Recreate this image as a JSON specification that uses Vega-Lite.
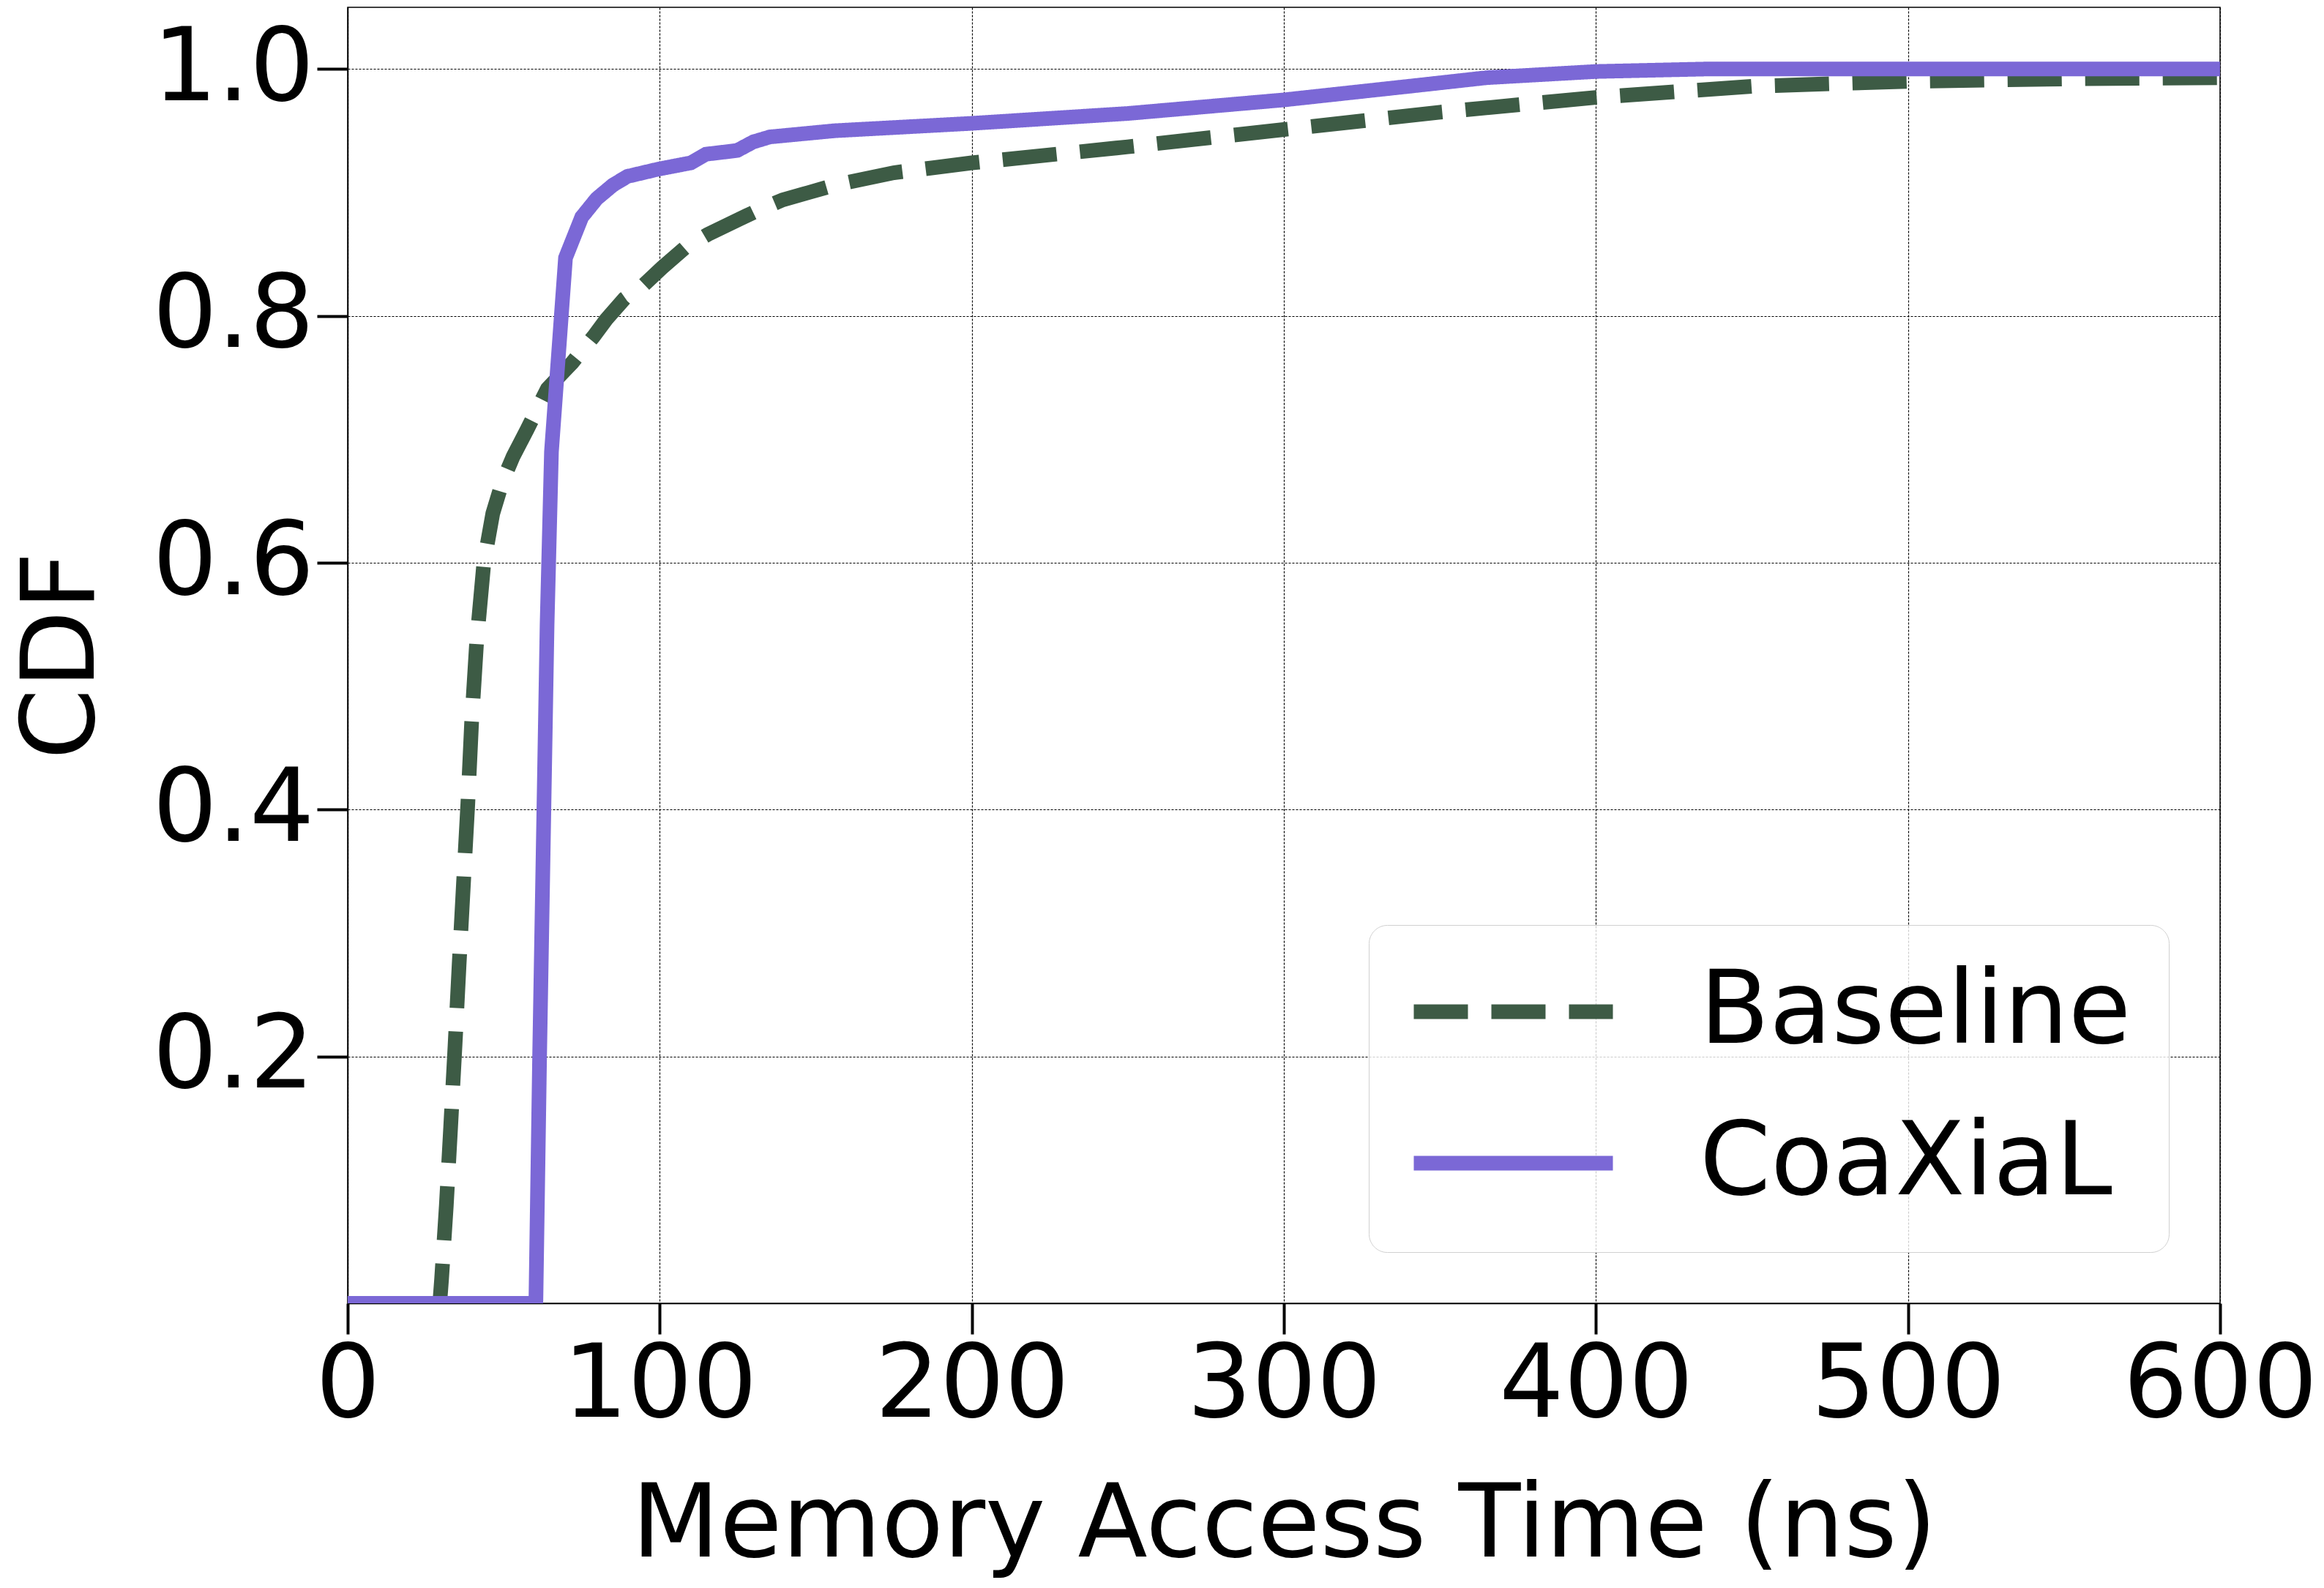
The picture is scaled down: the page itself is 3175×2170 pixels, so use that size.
{
  "$schema": "https://vega.github.io/schema/vega-lite/v6.json",
  "width": 2558,
  "height": 1771,
  "autosize": {"type": "none"},
  "padding": {"left": 475, "top": 10, "right": 142, "bottom": 389},
  "background": "white",
  "config": {
    "font": "DejaVu Sans",
    "view": {"stroke": "black", "strokeWidth": 1.5},
    "axis": {
      "labelFont": "DejaVu Sans",
      "titleFont": "DejaVu Sans",
      "labelFontSize": 139,
      "titleFontSize": 139,
      "titleFontWeight": "normal",
      "labelColor": "black",
      "titleColor": "black",
      "labelLimit": 0,
      "titleLimit": 0,
      "tickSize": 42,
      "tickWidth": 4,
      "tickColor": "black",
      "domainColor": "black",
      "domainWidth": 1.5,
      "grid": true,
      "gridColor": "black",
      "gridDash": [3, 2],
      "gridWidth": 1.2,
      "labelFlush": false,
      "labelOverlap": false
    }
  },
  "data": {
    "values": [
      {"series": "Baseline", "t": 0, "cdf": 0},
      {"series": "Baseline", "t": 29.5, "cdf": 0},
      {"series": "Baseline", "t": 30.1, "cdf": 0.02},
      {"series": "Baseline", "t": 31.6, "cdf": 0.079},
      {"series": "Baseline", "t": 33.0, "cdf": 0.143},
      {"series": "Baseline", "t": 34.4, "cdf": 0.209},
      {"series": "Baseline", "t": 35.7, "cdf": 0.274},
      {"series": "Baseline", "t": 37.1, "cdf": 0.34},
      {"series": "Baseline", "t": 38.5, "cdf": 0.405},
      {"series": "Baseline", "t": 39.7, "cdf": 0.47},
      {"series": "Baseline", "t": 41.3, "cdf": 0.535},
      {"series": "Baseline", "t": 43.6, "cdf": 0.599},
      {"series": "Baseline", "t": 46.5, "cdf": 0.64},
      {"series": "Baseline", "t": 49.5, "cdf": 0.665},
      {"series": "Baseline", "t": 53, "cdf": 0.686},
      {"series": "Baseline", "t": 57.5, "cdf": 0.708},
      {"series": "Baseline", "t": 64, "cdf": 0.741},
      {"series": "Baseline", "t": 71.9, "cdf": 0.762},
      {"series": "Baseline", "t": 78.7, "cdf": 0.783},
      {"series": "Baseline", "t": 82.8, "cdf": 0.797},
      {"series": "Baseline", "t": 88.7, "cdf": 0.814},
      {"series": "Baseline", "t": 94.4, "cdf": 0.824},
      {"series": "Baseline", "t": 100.7, "cdf": 0.839},
      {"series": "Baseline", "t": 108, "cdf": 0.855},
      {"series": "Baseline", "t": 115.4, "cdf": 0.866},
      {"series": "Baseline", "t": 122.7, "cdf": 0.875},
      {"series": "Baseline", "t": 131, "cdf": 0.885},
      {"series": "Baseline", "t": 139.4, "cdf": 0.894},
      {"series": "Baseline", "t": 147.8, "cdf": 0.9},
      {"series": "Baseline", "t": 156, "cdf": 0.906},
      {"series": "Baseline", "t": 175, "cdf": 0.916},
      {"series": "Baseline", "t": 200, "cdf": 0.924},
      {"series": "Baseline", "t": 250, "cdf": 0.937},
      {"series": "Baseline", "t": 300, "cdf": 0.951},
      {"series": "Baseline", "t": 350, "cdf": 0.965},
      {"series": "Baseline", "t": 400, "cdf": 0.977},
      {"series": "Baseline", "t": 450, "cdf": 0.986},
      {"series": "Baseline", "t": 500, "cdf": 0.99},
      {"series": "Baseline", "t": 550, "cdf": 0.992},
      {"series": "Baseline", "t": 600, "cdf": 0.993},
      {"series": "CoaXiaL", "t": 0, "cdf": 0},
      {"series": "CoaXiaL", "t": 60.3, "cdf": 0},
      {"series": "CoaXiaL", "t": 61.5, "cdf": 0.2},
      {"series": "CoaXiaL", "t": 63.9, "cdf": 0.55},
      {"series": "CoaXiaL", "t": 65.3, "cdf": 0.69},
      {"series": "CoaXiaL", "t": 69.8, "cdf": 0.847},
      {"series": "CoaXiaL", "t": 75, "cdf": 0.88},
      {"series": "CoaXiaL", "t": 79.8, "cdf": 0.895},
      {"series": "CoaXiaL", "t": 85, "cdf": 0.906},
      {"series": "CoaXiaL", "t": 89.6, "cdf": 0.913},
      {"series": "CoaXiaL", "t": 99.7, "cdf": 0.919},
      {"series": "CoaXiaL", "t": 110, "cdf": 0.924},
      {"series": "CoaXiaL", "t": 114.8, "cdf": 0.931},
      {"series": "CoaXiaL", "t": 124.8, "cdf": 0.934},
      {"series": "CoaXiaL", "t": 130, "cdf": 0.941},
      {"series": "CoaXiaL", "t": 135.3, "cdf": 0.945},
      {"series": "CoaXiaL", "t": 156, "cdf": 0.95},
      {"series": "CoaXiaL", "t": 200, "cdf": 0.956},
      {"series": "CoaXiaL", "t": 250, "cdf": 0.964},
      {"series": "CoaXiaL", "t": 300, "cdf": 0.975},
      {"series": "CoaXiaL", "t": 340, "cdf": 0.986},
      {"series": "CoaXiaL", "t": 365, "cdf": 0.993},
      {"series": "CoaXiaL", "t": 400, "cdf": 0.998},
      {"series": "CoaXiaL", "t": 435, "cdf": 1.0},
      {"series": "CoaXiaL", "t": 600, "cdf": 1.0}
    ]
  },
  "mark": {"type": "line", "strokeWidth": 20, "clip": true, "strokeCap": "butt", "strokeJoin": "miter"},
  "encoding": {
    "x": {
      "field": "t",
      "type": "quantitative",
      "title": "Memory Access Time (ns)",
      "scale": {"domain": [0, 600], "nice": false},
      "axis": {"values": [0, 100, 200, 300, 400, 500, 600], "format": "d", "labelPadding": 2, "titlePadding": 53}
    },
    "y": {
      "field": "cdf",
      "type": "quantitative",
      "title": "CDF",
      "scale": {"domain": [0, 1.05], "nice": false},
      "axis": {"values": [0.2, 0.4, 0.6, 0.8, 1.0], "format": ".1f", "labelPadding": 4, "titlePadding": 119}
    },
    "color": {
      "field": "series",
      "type": "nominal",
      "scale": {"domain": ["Baseline", "CoaXiaL"], "range": ["#3d5b45", "#7b68d6"]},
      "legend": {
        "title": null,
        "orient": "bottom-right",
        "offset": 70,
        "symbolType": "stroke",
        "symbolStrokeWidth": 20,
        "symbolSize": 74000,
        "clipHeight": 135,
        "labelFontSize": 139,
        "labelFont": "DejaVu Sans",
        "labelColor": "black",
        "labelLimit": 0,
        "labelOffset": 108,
        "rowPadding": 67,
        "padding": 51,
        "fillColor": "rgba(255,255,255,0.8)",
        "strokeColor": "#d0d0d0",
        "cornerRadius": 25
      }
    },
    "strokeDash": {
      "field": "series",
      "type": "nominal",
      "scale": {"domain": ["Baseline", "CoaXiaL"], "range": [[74, 32], [1, 0]]},
      "legend": null
    }
  }
}
